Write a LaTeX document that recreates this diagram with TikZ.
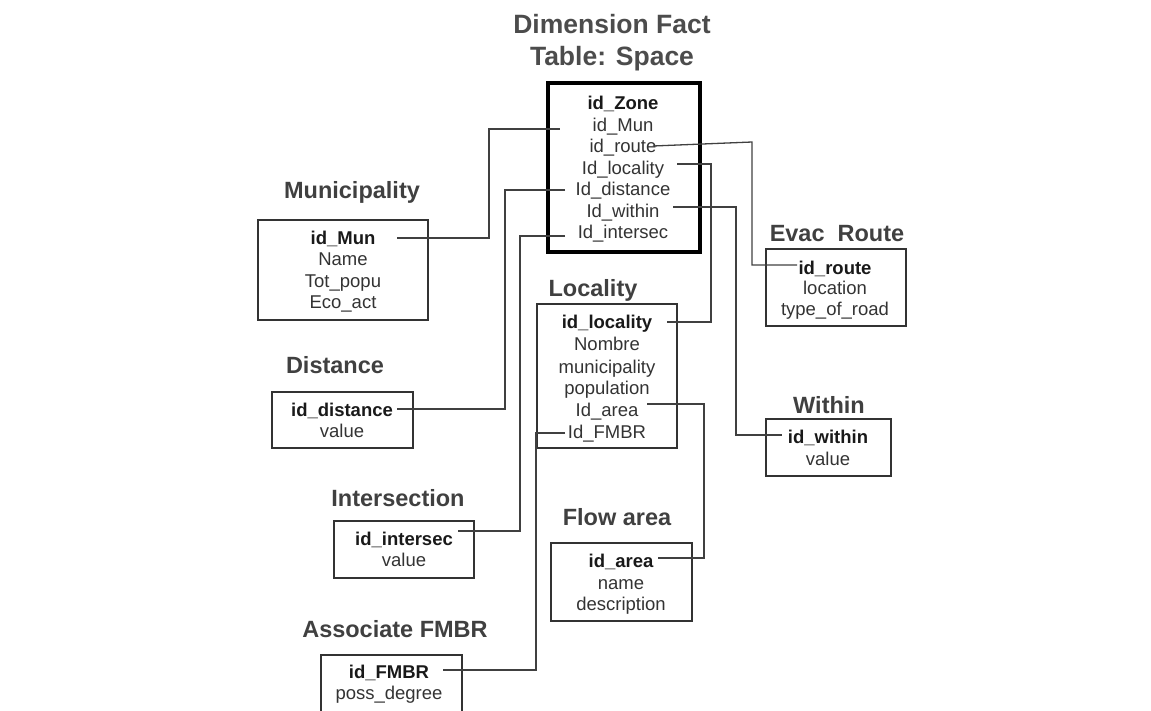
\documentclass[tikz,border=0pt]{standalone}
\usepackage{fontspec}
\setmainfont{Liberation Sans}
\tikzset{
  row/.style={inner sep=0pt, text height=13pt, text depth=0pt, text=black!80,
    font=\fontsize{18.5}{20}\selectfont},
  keyrow/.style={row, font=\fontsize{18.5}{20}\selectfont\bfseries, text=black!90},
  lbl/.style={inner sep=0pt, text height=17pt, text depth=0pt, text=black!75,
    font=\fontsize{23.5}{26}\selectfont\bfseries},
  ttl/.style={inner sep=0pt, text height=19pt, text depth=0pt, text=black!70,
    font=\fontsize{26.5}{30}\selectfont\bfseries},
  tbox/.style={draw=black!80, line width=1.6pt, inner sep=0pt},
  fbox/.style={draw=black, line width=4pt, inner sep=0pt},
  conn/.style={draw=black!75, line width=1.3pt}
}
\begin{document}
\begin{tikzpicture}[x=1pt,y=-1pt]
\useasboundingbox (0,0) rectangle (1151,710);
\clip (0,0) rectangle (1151,710);

% titles and labels
\node[ttl] (t1) at (612,24) {Dimension Fact};
\node[ttl] (t2) at (612,56) {Table: Space};
\node[lbl] (lmun) at (352,190) {Municipality};
\node[lbl] (levac) at (837,233) {Evac\ \ Route};
\node[lbl] (lloc) at (593,288) {Locality};
\node[lbl] (ldist) at (335,365) {Distance};
\node[lbl] (lwith) at (829,405) {Within};
\node[lbl] (lint) at (398,498) {Intersection};
\node[lbl] (lflow) at (617,517) {Flow area};
\node[lbl] (lfmbr) at (395,629) {Associate FMBR};

% boxes
\node[fbox, minimum width=152pt, minimum height=169pt] (bzone) at (624,167.5) {};
\node[tbox, minimum width=170pt, minimum height=100pt] (bmun) at (343,270) {};
\node[tbox, minimum width=140pt, minimum height=77pt] (bevac) at (836,287.5) {};
\node[tbox, minimum width=140pt, minimum height=144pt] (bloc) at (607,376) {};
\node[tbox, minimum width=141pt, minimum height=56pt] (bdist) at (342.5,420) {};
\node[tbox, minimum width=125pt, minimum height=57pt] (bwith) at (828.5,447.5) {};
\node[tbox, minimum width=140pt, minimum height=57pt] (bint) at (404,549.5) {};
\node[tbox, minimum width=141pt, minimum height=78pt] (bflow) at (621.5,582) {};
\node[tbox, minimum width=141pt, minimum height=60pt] (bfmbr) at (391.5,685) {};

% fact table rows
\node[keyrow] (zzone) at (623,103) {id\_Zone};
\node[row] (zmun) at (623,125) {id\_Mun};
\node[row] (zroute) at (623,146) {id\_route};
\node[row] (zloc) at (623,168) {Id\_locality};
\node[row] (zdist) at (623,189) {Id\_distance};
\node[row] (zwith) at (623,211) {Id\_within};
\node[row] (zint) at (623,232) {Id\_intersec};

% municipality
\node[keyrow] (mid) at (343,238) {id\_Mun};
\node[row] (mname) at (343,259) {Name};
\node[row] (mtot) at (343,281) {Tot\_popu};
\node[row] (meco) at (343,302) {Eco\_act};

% evac route
\node[keyrow] (eid) at (835,268) {id\_route};
\node[row] (eloc) at (835,288) {location};
\node[row] (etype) at (835,309) {type\_of\_road};

% locality
\node[keyrow] (lid) at (607,322) {id\_locality};
\node[row] (lnom) at (607,344) {Nombre};
\node[row] (lmunc) at (607,367) {municipality};
\node[row] (lpop) at (607,388) {population};
\node[row] (larea) at (607,410) {Id\_area};
\node[row] (lfm) at (607,432) {Id\_FMBR};

% distance
\node[keyrow] (did) at (342,410) {id\_distance};
\node[row] (dval) at (342,431) {value};

% within
\node[keyrow] (wid) at (828,437) {id\_within};
\node[row] (wval) at (828,459) {value};

% intersection
\node[keyrow] (iid) at (404,539) {id\_intersec};
\node[row] (ival) at (404,560) {value};

% flow area
\node[keyrow] (fid) at (621,561) {id\_area};
\node[row] (fname) at (621,583) {name};
\node[row] (fdesc) at (621,604) {description};

% associate FMBR
\node[keyrow] (aid) at (389,672) {id\_FMBR};
\node[row] (adeg) at (389,693) {poss\_degree};

% connector end points and bends
\coordinate (c1a) at (397,238); \coordinate (c1x) at (489,0); \coordinate (c1b) at (560,129);
\coordinate (c2a) at (653,146); \coordinate (c2k) at (752,142); \coordinate (c2b) at (797,265);
\coordinate (c3a) at (677,164); \coordinate (c3x) at (711,0); \coordinate (c3b) at (667,322);
\coordinate (c4a) at (565,190); \coordinate (c4x) at (505,0); \coordinate (c4b) at (397,409);
\coordinate (c5a) at (673,207); \coordinate (c5x) at (736,0); \coordinate (c5b) at (782,435);
\coordinate (c6a) at (565,236); \coordinate (c6x) at (520,0); \coordinate (c6b) at (458,531);
\coordinate (c7a) at (647,404); \coordinate (c7x) at (704,0); \coordinate (c7b) at (658,558);
\coordinate (c8a) at (565,433); \coordinate (c8x) at (536,0); \coordinate (c8b) at (443,670);

% connectors
\draw[conn] (c1a) -- (c1a -| c1x) -- (c1b -| c1x) -- (c1b);
\draw[conn] (c2a) -- (c2k) -- (c2k |- c2b) -- (c2b);
\draw[conn] (c3a) -- (c3a -| c3x) -- (c3b -| c3x) -- (c3b);
\draw[conn] (c4a) -- (c4a -| c4x) -- (c4b -| c4x) -- (c4b);
\draw[conn] (c5a) -- (c5a -| c5x) -- (c5b -| c5x) -- (c5b);
\draw[conn] (c6a) -- (c6a -| c6x) -- (c6b -| c6x) -- (c6b);
\draw[conn] (c7a) -- (c7a -| c7x) -- (c7b -| c7x) -- (c7b);
\draw[conn] (c8a) -- (c8a -| c8x) -- (c8b -| c8x) -- (c8b);
\end{tikzpicture}
\end{document}
